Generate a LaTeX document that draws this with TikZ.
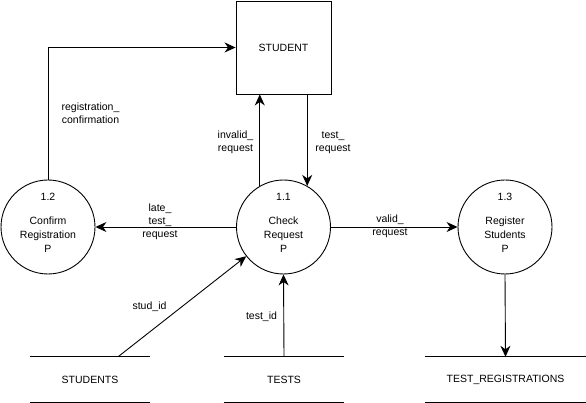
\documentclass[tikz,border=0pt]{standalone}
\usepackage{fontspec}
\setmainfont{Liberation Sans}
\usetikzlibrary{arrows.meta}
\begin{document}
\begin{tikzpicture}[x=1pt,y=-1pt,
  every node/.style={font=\fontsize{10.5}{13}\selectfont},
  proc/.style={circle,draw,line width=0.9pt,minimum size=94pt,inner sep=0pt},
  ptext/.style={align=center,font=\fontsize{10.5}{14}\selectfont},
  ent/.style={draw,line width=0.9pt,minimum width=95pt,minimum height=93pt,inner sep=0pt},
  store/.style={minimum height=45pt,inner sep=0pt},
  lbl/.style={align=center,inner sep=0pt},
  flow/.style={line width=0.9pt,-{Stealth[length=11pt,width=10pt,inset=3.5pt]}},
  sline/.style={line width=0.9pt}]
\useasboundingbox (0,0) rectangle (586,403);
% entity
\node[ent] (student) at (283.5,47.5) {STUDENT};
% processes
\node[proc] (c12) at (48,227) {};
\node[proc] (c11) at (283.5,227) {};
\node[proc] (c13) at (505,227) {};
\node[ptext] (t12) at ([yshift=4pt]c12.center) {1.2\\[10pt]Confirm\\Registration\\P};
\node[ptext] (t11) at ([yshift=4pt]c11.center) {1.1\\[10pt]Check\\Request\\P};
\node[ptext] (t13) at ([yshift=4pt]c13.center) {1.3\\[10pt]Register\\Students\\P};
% stores
\node[store,minimum width=120pt] (s1) at (90,379.5) {STUDENTS};
\node[store,minimum width=120pt] (s2) at (284,379.5) {TESTS};
\node[store,minimum width=161pt] (s3) at (505.5,379.5) {TEST\_REGISTRATIONS};
\foreach \s in {s1,s2,s3}{
  \draw[sline] (\s.north west) -- (\s.north east);
  \draw[sline] (\s.south west) -- (\s.south east);
}
% flows
\draw[flow] (c12.north) |- (student.west);
\draw[flow] (c11.120) -- (student.south -| c11.120);
\draw[flow] (student.south -| c11.60) -- (c11.60);
\draw[flow] (c11.west) -- (c12.east);
\draw[flow] (c11.east) -- (c13.west);
\draw[flow] ([xshift=28pt]s1.north) -- (c11);
\draw[flow] (s2.north) -- (c11.south);
\draw[flow] (c13.south) -- (s3.north);
% labels
\node[lbl] (l1) at (90.5,113.5) {registration\_\\confirmation};
\node[lbl] (l2) at (235.5,142.5) {invalid\_\\request};
\node[lbl] (l3) at (333,142.5) {test\_\\request};
\node[lbl] (l4) at (160,221.5) {late\_\\test\_\\request};
\node[lbl] (l5) at (390,226) {valid\_\\request};
\node[lbl] (l6) at (149.5,306.7) {stud\_id};
\node[lbl] (l7) at (261.5,317) {test\_id};
\end{tikzpicture}
\end{document}
